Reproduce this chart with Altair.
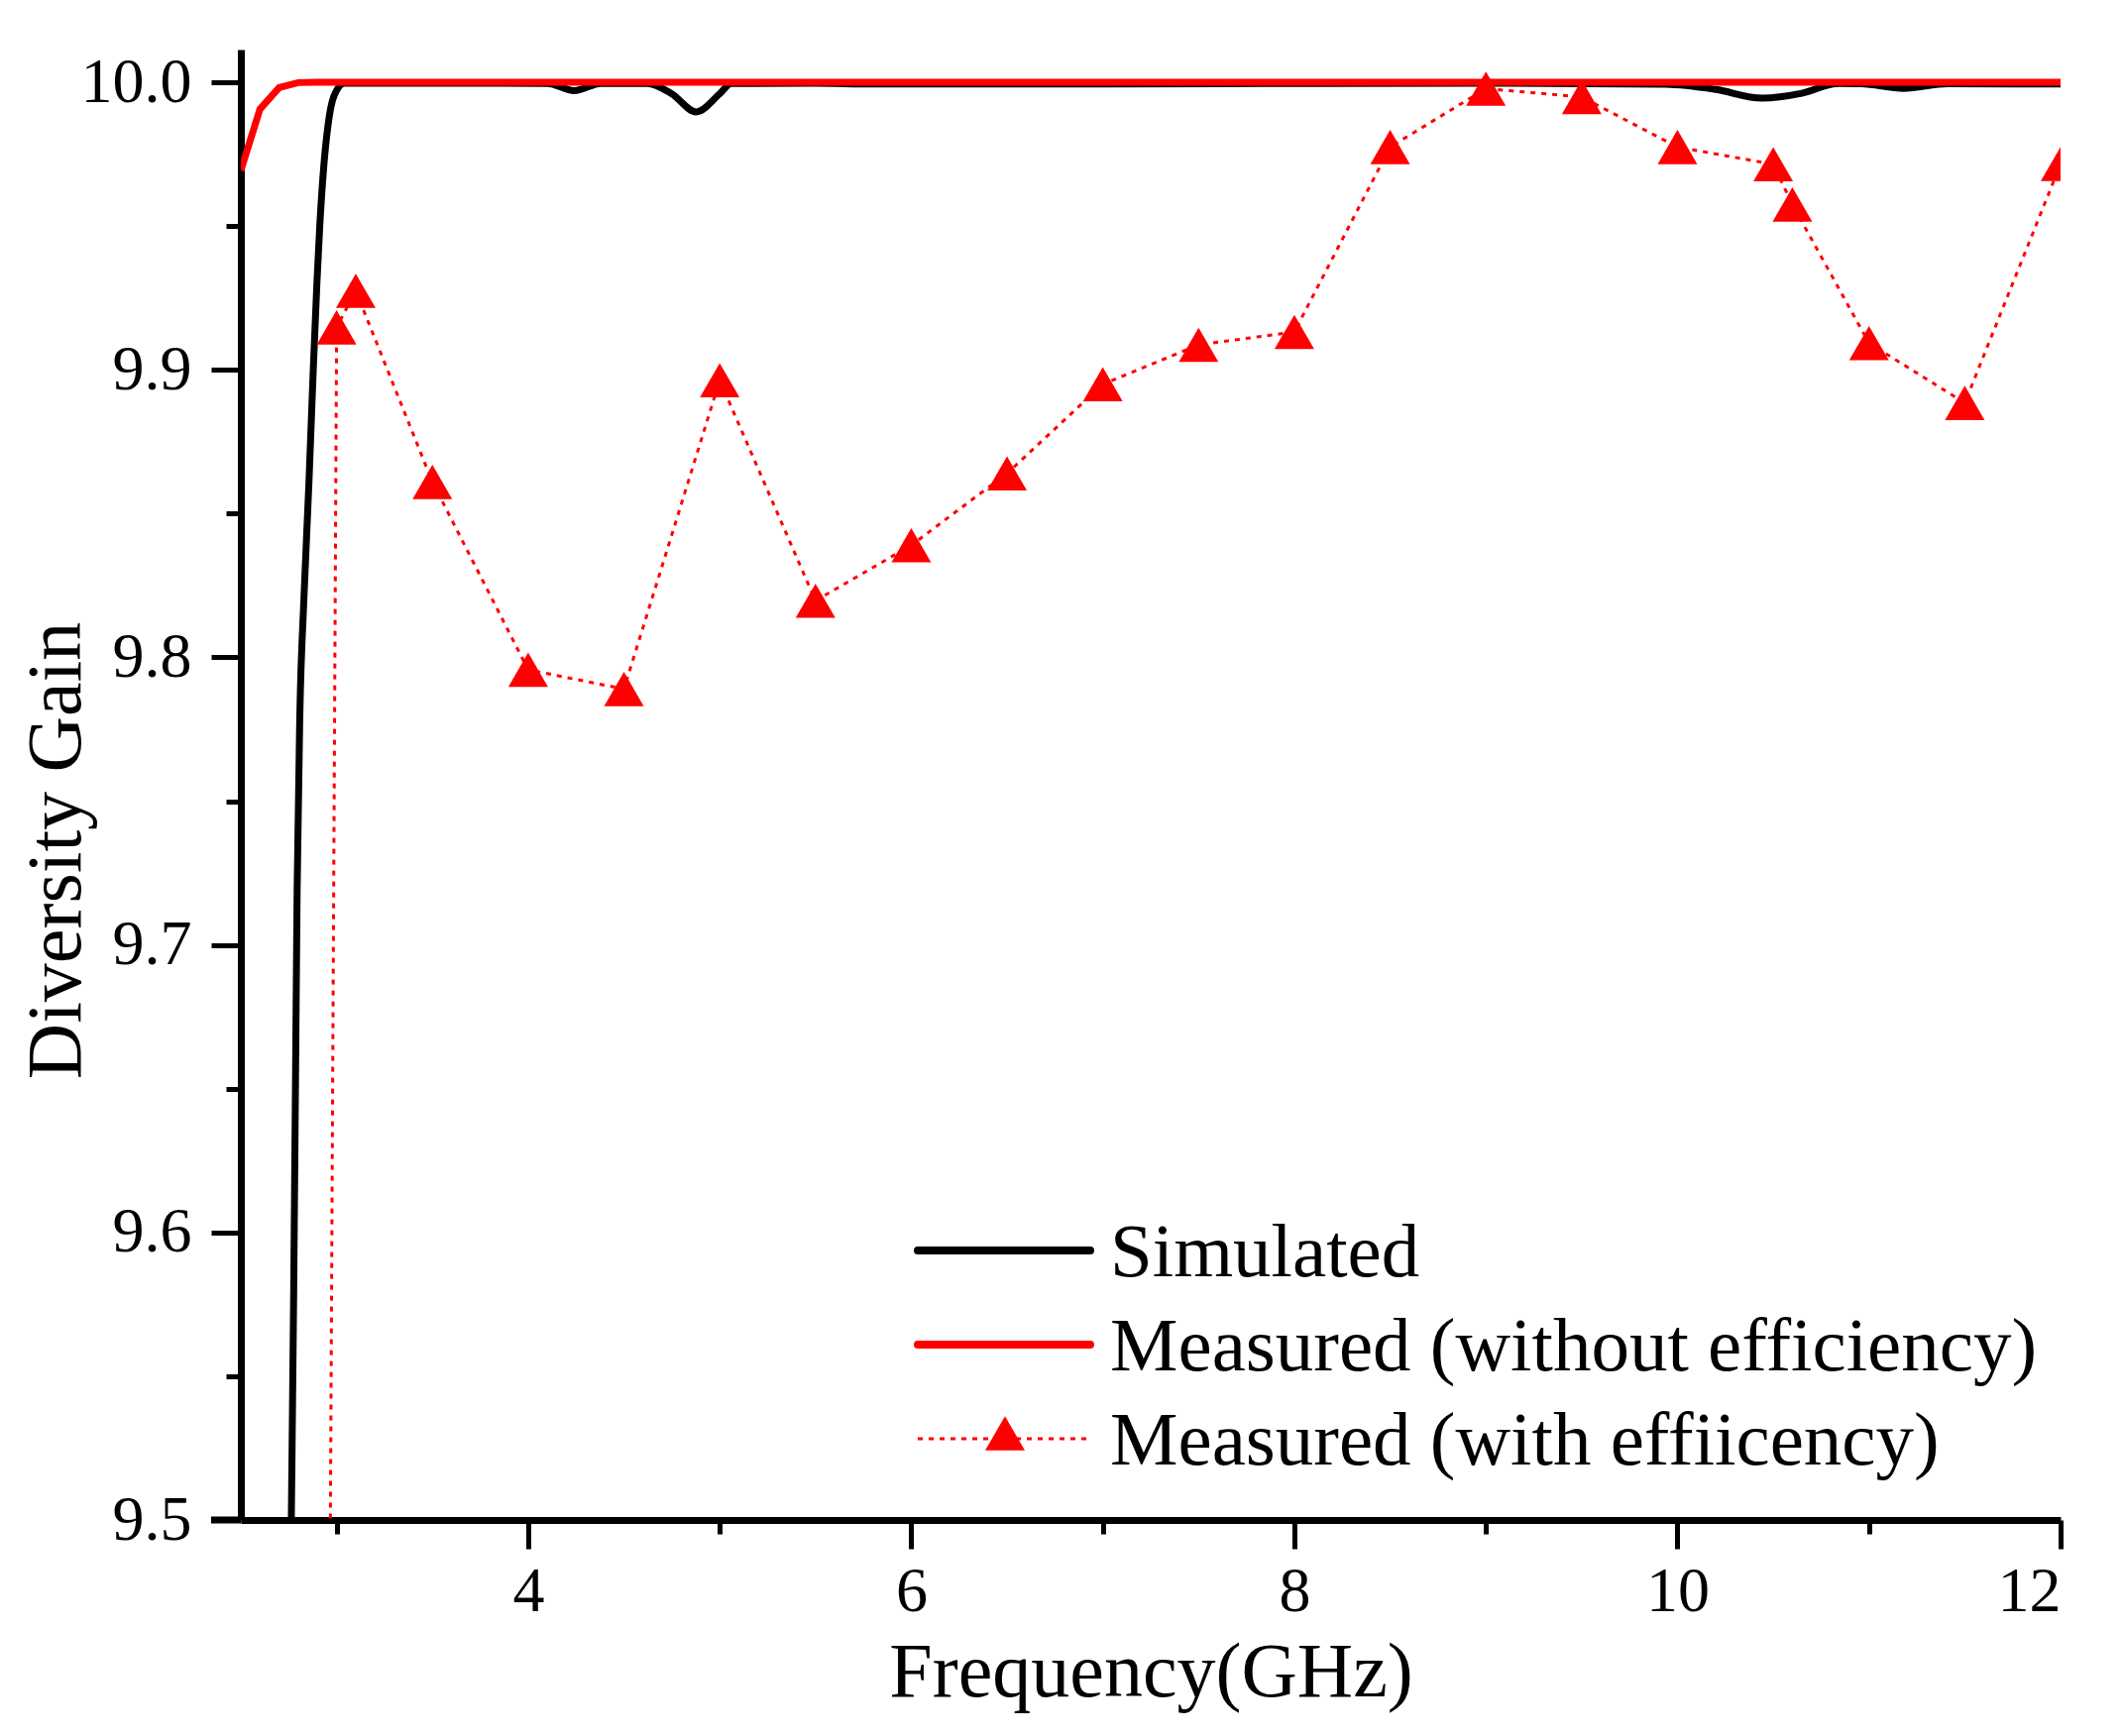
import altair as alt
import pandas as pd

# Simulated diversity gain (black curve)
sim_freq = [2.70, 2.7635, 2.776, 2.785, 2.794, 2.808, 2.829, 2.855, 2.878, 2.897,
            2.912, 2.932, 2.955, 2.985, 3.04, 3.5, 4.10, 4.24,
            4.38, 4.62, 4.75, 4.877, 5.00, 5.06, 5.5, 5.8, 7.0, 8.0,
            9.0, 9.94, 10.2, 10.44, 10.65, 10.84, 10.96, 11.18, 11.41, 12.0]
sim_gain = [9.09, 9.50, 9.58, 9.65, 9.72, 9.78, 9.82, 9.86, 9.90, 9.93,
            9.95, 9.97, 9.985, 9.995, 9.9997, 9.9997, 9.9996, 9.9971,
            9.9996, 9.9996, 9.9960, 9.9897, 9.9960, 9.9996, 9.9997, 9.9994, 9.9994, 9.9996,
            9.9997, 9.9993, 9.9975, 9.9945, 9.9962, 9.9996, 9.9995, 9.9979, 9.9995, 9.9994]

# Measured without efficiency (red solid)
meas_freq = [2.5, 2.6, 2.7, 2.8, 2.9, 12.0]
meas_gain = [9.9694, 9.9907, 9.9982, 9.9999, 10.0, 10.0]

# Measured with efficiency (red dotted with triangles)
eff_freq = [2.9, 3.0, 3.1, 3.5, 4.0, 4.5, 5.0, 5.5, 6.0, 6.5, 7.0, 7.5, 8.0,
            8.5, 9.0, 9.5, 10.0, 10.5, 10.6, 11.0, 11.5, 12.0]
eff_gain = [8.64, 9.9148, 9.9275, 9.861, 9.7957, 9.789, 9.8964, 9.8197, 9.839, 9.864,
            9.895, 9.9087, 9.9132, 9.9775, 9.9978, 9.9949, 9.9775, 9.9715, 9.9575,
            9.9093, 9.8885, 9.9716]

series_names = ["Simulated", "Measured (without efficiency)", "Measured (with effiicency)"]

x_ticks = [3, 4, 5, 6, 7, 8, 9, 10, 11, 12]
y_ticks = [9.5, 9.55, 9.6, 9.65, 9.7, 9.75, 9.8, 9.85, 9.9, 9.95, 10.0]

FONT = "Liberation Serif"
W, H = 1836, 1484

sim = pd.DataFrame({"freq": sim_freq, "gain": sim_gain})
meas = pd.DataFrame({"freq": meas_freq, "gain": meas_gain})
eff = pd.DataFrame({"freq": eff_freq, "gain": eff_gain})

x_major = "datum.value % 2 == 0"
y_major = "abs(datum.value * 10 - round(datum.value * 10)) < 0.001"

x_enc = alt.X(
    "freq:Q",
    scale=alt.Scale(domain=[2.5, 12], nice=False, zero=False),
    axis=alt.Axis(
        values=x_ticks,
        labelExpr=f"{x_major} ? format(datum.value, 'd') : ''",
        tickSize={"condition": {"test": x_major, "value": 29}, "value": 14},
        labelPadding=11,
        title="Frequency(GHz)",
        titleY=177,
        titleBaseline="alphabetic",
    ),
)
y_enc = alt.Y(
    "gain:Q",
    scale=alt.Scale(domain=[9.5, 10.0114], nice=False, zero=False),
    axis=alt.Axis(
        values=y_ticks,
        labelExpr=f"{y_major} ? format(datum.value, '.1f') : ''",
        tickSize={"condition": {"test": y_major, "value": 30}, "value": 15},
        labelPadding=20,
        title="Diversity Gain",
        titleX=-163,
        titleY=808,
        titleBaseline="alphabetic",
    ),
)

sim_line = alt.Chart(sim).mark_line(
    color="black", strokeWidth=7, interpolate="monotone", clip=True
).encode(x=x_enc, y=y_enc)

meas_line = alt.Chart(meas).mark_line(color="red", strokeWidth=7, clip=True).encode(
    x="freq:Q", y="gain:Q"
)

eff_line = alt.Chart(eff).mark_line(
    color="red", strokeWidth=3, strokeDash=[5, 6], clip=True
).encode(x="freq:Q", y="gain:Q")

eff_pts = alt.Chart(eff).mark_point(
    shape="triangle-up", filled=True, size=1600, color="red", opacity=1, clip=True
).encode(x="freq:Q", y="gain:Q")

# little stub of the x axis left of the y axis, as in the original
stub = alt.Chart(pd.DataFrame({"a": [0]})).mark_rule(
    color="black", strokeWidth=7
).encode(x=alt.value(-30), x2=alt.value(0), y=alt.value(H))

# hand made legend
leg_rows = [1212, 1307, 1402]
leg_layers = []
styles = [
    {"color": "black", "strokeWidth": 8, "strokeCap": "round"},
    {"color": "red", "strokeWidth": 8, "strokeCap": "round"},
    {"color": "red", "strokeWidth": 3, "strokeDash": [5, 6]},
]
for name, row, st in zip(series_names, leg_rows, styles):
    d = pd.DataFrame({"label": [name]})
    leg_layers.append(
        alt.Chart(d).mark_rule(**st).encode(
            x=alt.value(683), x2=alt.value(857), y=alt.value(row)
        )
    )
    leg_layers.append(
        alt.Chart(d).mark_text(
            align="left", baseline="alphabetic", font=FONT, fontSize=77, color="black"
        ).encode(x=alt.value(877), y=alt.value(row + 26), text="label:N")
    )
leg_layers.append(
    alt.Chart(pd.DataFrame({"label": [series_names[2]]})).mark_point(
        shape="triangle-up", filled=True, size=1600, color="red", opacity=1
    ).encode(x=alt.value(771), y=alt.value(leg_rows[2] - 5.5))
)

chart = alt.layer(sim_line, meas_line, eff_line, eff_pts, stub, *leg_layers).properties(
    width=W,
    height=H,
    autosize=alt.AutoSizeParams(type="none"),
    padding={"left": 235, "top": 42, "right": 55, "bottom": 195},
).configure_view(stroke=None).configure_axis(
    grid=False,
    domainColor="black",
    domainWidth=7,
    tickColor="black",
    tickWidth=5,
    labelColor="black",
    labelFont=FONT,
    labelFontSize=64,
    titleColor="black",
    titleFont=FONT,
    titleFontSize=78,
    titleFontWeight="normal",
)

chart.save("out.html", embed_options={"renderer": "svg", "actions": False})
